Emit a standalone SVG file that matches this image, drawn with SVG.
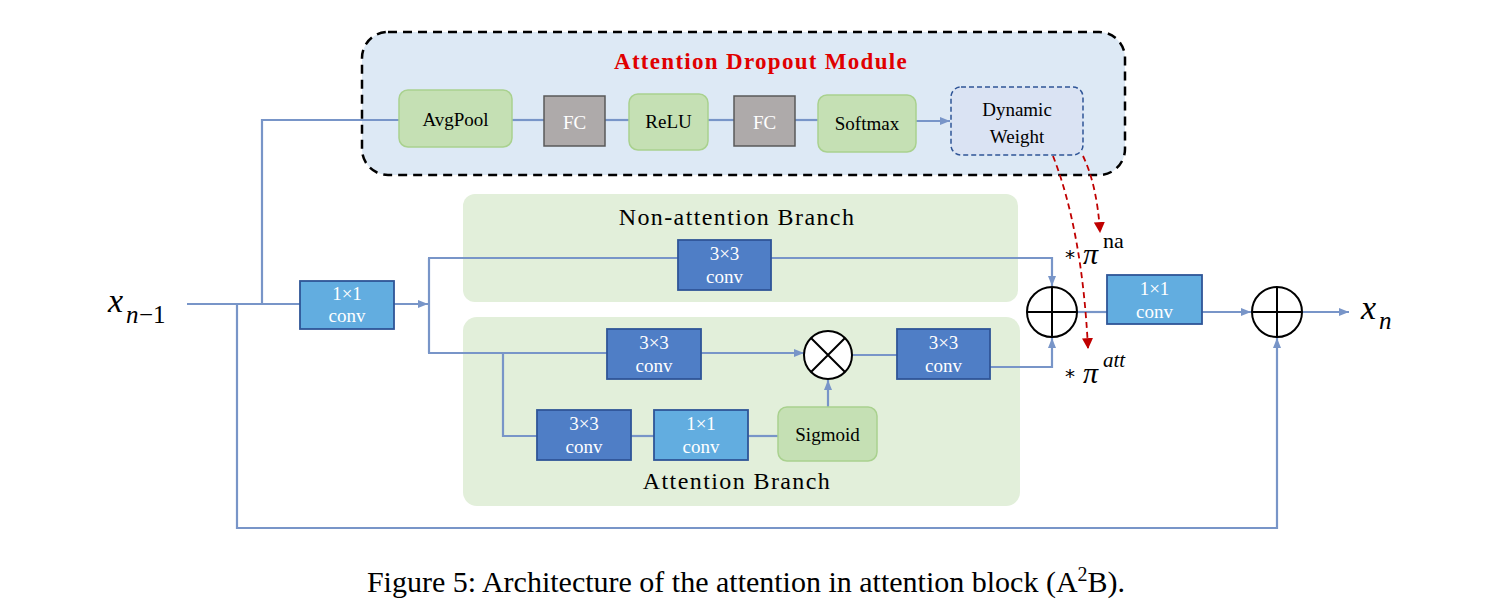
<svg xmlns="http://www.w3.org/2000/svg" width="1492" height="607" viewBox="0 0 1492 607">
<defs>
<style>
.ln{fill:none;stroke:#7895c8;stroke-width:2.2}
.rd{fill:none;stroke:#c00000;stroke-width:1.8;stroke-dasharray:6,4}
.green{fill:#c5e0b4;stroke:#a9d18e;stroke-width:1.5}
.fc{fill:#aeaaaa;stroke:#595959;stroke-width:1.5}
.c33{fill:#4f7ec6;stroke:#2f5597;stroke-width:1.8}
.c11{fill:#62ade0;stroke:#2f5597;stroke-width:1.8}
.bg{fill:#e2efda}
.op{fill:#fff;stroke:#000;stroke-width:2}
.t{font-family:'Liberation Serif',serif;font-size:19px;text-anchor:middle;fill:#000}
.w{fill:#fff}
.br{font-size:24px;letter-spacing:1.4px}
.m{font-family:'Liberation Serif',serif;font-style:italic;fill:#000}
.up{font-family:'Liberation Serif',serif;fill:#000}
</style>
<marker id="ab" viewBox="0 0 10 8" refX="10" refY="4" markerWidth="10" markerHeight="8" orient="auto" markerUnits="userSpaceOnUse">
<path d="M0,0 L10,4 L0,8 z" fill="#7895c8"/>
</marker>
<marker id="ar" viewBox="0 0 10 10" refX="9" refY="5" markerWidth="11" markerHeight="11" orient="auto" markerUnits="userSpaceOnUse">
<path d="M0,0 L10,5 L0,10 z" fill="#c00000"/>
</marker>
</defs>

<g id="module-bg">
<rect x="362" y="32" width="763" height="143" rx="26" fill="#dde9f5" stroke="#000" stroke-width="2.5" stroke-dasharray="9,6"/>
<text x="761" y="69" font-family="Liberation Serif,serif" font-size="23" font-weight="bold" fill="#e00000" text-anchor="middle" letter-spacing="1.3">Attention Dropout Module</text>
</g>
<g id="branch-bgs">
<rect class="bg" x="463" y="194" width="555" height="108" rx="12"/>
<text class="t br" x="737" y="225">Non-attention Branch</text>
<rect class="bg" x="463" y="317" width="557" height="189" rx="14"/>
<text class="t br" x="737" y="489">Attention Branch</text>
</g>

<g id="connectors">
<polyline class="ln" points="187,304 300,304"/>
<polyline class="ln" points="262,304 262,120 399,120"/>
<line class="ln" x1="512" y1="120" x2="544" y2="120"/>
<line class="ln" x1="605" y1="120" x2="629" y2="120"/>
<line class="ln" x1="708" y1="120" x2="734" y2="120"/>
<line class="ln" x1="795" y1="120" x2="818" y2="120"/>
<line class="ln" x1="916" y1="121" x2="950" y2="121" marker-end="url(#ab)"/>
<polyline class="ln" points="237,304 237,528 1277,528 1277,338" marker-end="url(#ab)"/>
<line class="ln" x1="394" y1="304" x2="428" y2="304" marker-end="url(#ab)"/>
<polyline class="ln" points="429,258 429,353"/>
<polyline class="ln" points="428,258 1052,258 1052,286" marker-end="url(#ab)"/>
<polyline class="ln" points="428,353 804,353" marker-end="url(#ab)"/>
<polyline class="ln" points="503,353 503,436 537,436"/>
<line class="ln" x1="631" y1="436" x2="654" y2="436"/>
<line class="ln" x1="748" y1="436" x2="778" y2="436"/>
<line class="ln" x1="828" y1="407" x2="828" y2="380" marker-end="url(#ab)"/>
<line class="ln" x1="852" y1="355" x2="897" y2="355"/>
<polyline class="ln" points="990,367 1052,367 1052,338" marker-end="url(#ab)"/>
<line class="ln" x1="1077" y1="312" x2="1107" y2="312"/>
<line class="ln" x1="1202" y1="312" x2="1251" y2="312" marker-end="url(#ab)"/>
<line class="ln" x1="1302" y1="312" x2="1349" y2="312" marker-end="url(#ab)"/>
<path class="rd" d="M1053,156 Q1082,230 1088,348" marker-end="url(#ar)"/>
<path class="rd" d="M1083,156 Q1097,185 1100,232" marker-end="url(#ar)"/>
</g>

<g id="avgpool"><rect class="green" x="399" y="90" width="113" height="57" rx="9"/><text class="t" x="455.5" y="126" font-size="21">AvgPool</text></g>
<g id="fc1"><rect class="fc" x="544" y="96" width="61" height="50"/><text class="t w" x="574.5" y="129" font-size="23">FC</text></g>
<g id="relu"><rect class="green" x="629" y="94" width="79" height="56" rx="9"/><text class="t" x="668.5" y="128" font-size="17">ReLU</text></g>
<g id="fc2"><rect class="fc" x="734" y="96" width="61" height="50"/><text class="t w" x="764.5" y="129" font-size="23">FC</text></g>
<g id="softmax"><rect class="green" x="818" y="95" width="98" height="57" rx="9"/><text class="t" x="867" y="130" font-size="17">Softmax</text></g>
<g id="dynamic-weight"><rect x="951" y="87" width="132" height="68" rx="10" fill="#dae3f3" stroke="#2f5597" stroke-width="1.5" stroke-dasharray="5,3"/><text class="t" x="1017" y="116" font-size="22">Dynamic</text><text class="t" x="1017" y="143" font-size="22">Weight</text></g>

<g id="xin"><text class="m" x="108" y="312" font-size="34">x</text><text class="m" x="126" y="323" font-size="25">n</text><text class="up" x="139" y="323" font-size="25">−1</text></g>
<g id="conv1x1-in"><rect class="c11" x="300" y="281" width="94" height="48"/><text class="t w" x="347" y="300">1×1</text><text class="t w" x="347" y="322">conv</text></g>
<g id="conv3x3-na"><rect class="c33" x="678" y="240" width="93" height="50"/><text class="t w" x="724.5" y="260">3×3</text><text class="t w" x="724.5" y="283">conv</text></g>
<g id="conv3x3-a1"><rect class="c33" x="607" y="329" width="94" height="50"/><text class="t w" x="654" y="349">3×3</text><text class="t w" x="654" y="372">conv</text></g>
<g id="mul"><circle class="op" cx="828" cy="355" r="24"/><path d="M811,338 L845,372 M845,338 L811,372" stroke="#000" stroke-width="2"/></g>
<g id="conv3x3-a2"><rect class="c33" x="897" y="329" width="93" height="50"/><text class="t w" x="943.5" y="349">3×3</text><text class="t w" x="943.5" y="372">conv</text></g>
<g id="conv3x3-a3"><rect class="c33" x="537" y="410" width="94" height="50"/><text class="t w" x="584" y="430">3×3</text><text class="t w" x="584" y="453">conv</text></g>
<g id="conv1x1-a"><rect class="c11" x="654" y="410" width="94" height="50"/><text class="t w" x="701" y="430">1×1</text><text class="t w" x="701" y="453">conv</text></g>
<g id="sigmoid"><rect class="green" x="778" y="407" width="99" height="54" rx="9"/><text class="t" x="827.5" y="441" font-size="18">Sigmoid</text></g>
<g id="add1"><circle class="op" cx="1052" cy="312" r="25"/><path d="M1027,312 H1077 M1052,287 V337" stroke="#000" stroke-width="2"/></g>
<g id="conv1x1-out"><rect class="c11" x="1107" y="275" width="95" height="49"/><text class="t w" x="1154.5" y="295">1×1</text><text class="t w" x="1154.5" y="318">conv</text></g>
<g id="add2"><circle class="op" cx="1277" cy="312" r="25"/><path d="M1252,312 H1302 M1277,287 V337" stroke="#000" stroke-width="2"/></g>
<g id="xout"><text class="m" x="1361" y="319" font-size="34">x</text><text class="m" x="1379" y="329" font-size="25">n</text></g>
<g id="pi-na"><text x="1065" y="264" font-family="DejaVu Sans,sans-serif" font-size="20">*</text><text class="m" x="1083" y="264" font-size="30">π</text><text class="up" x="1103" y="248" font-size="22">na</text></g>
<g id="pi-att"><text x="1065" y="383" font-family="DejaVu Sans,sans-serif" font-size="20">*</text><text class="m" x="1083" y="383" font-size="30">π</text><text class="m" x="1103" y="367" font-size="21">att</text></g>
<g id="caption"><text x="746" y="592" font-family="Liberation Serif,serif" font-size="30" text-anchor="middle">Figure 5: Architecture of the attention in attention block (A<tspan font-size="20" dy="-11">2</tspan><tspan dy="11">B).</tspan></text></g>
</svg>
